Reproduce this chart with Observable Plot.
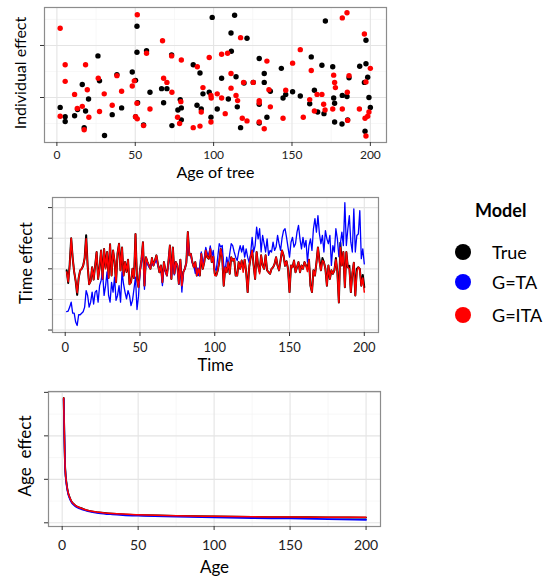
<!DOCTYPE html>
<html><head><meta charset="utf-8">
<script src="https://cdn.jsdelivr.net/npm/d3@7"></script>
<script src="https://cdn.jsdelivr.net/npm/@observablehq/plot@0.6"></script>
<style>
body{margin:0;background:#fff;font-family:Lato,sans-serif;}
#wrap{position:relative;width:544px;height:579px;overflow:hidden;}
.panel{position:absolute;left:0;}
.panel svg{display:block;}
.legend{position:absolute;left:0;top:0;width:544px;height:579px;pointer-events:none;}
.lg-title{position:absolute;left:475px;top:199px;font-weight:bold;font-size:18px;color:#000;}
.lg-item{position:absolute;left:455px;height:18px;display:flex;align-items:center;}
.lg-dot{width:16px;height:16px;border-radius:50%;margin-right:21px;}
.lg-text{font-size:18px;color:#000;}
</style></head><body><div id="wrap"></div>
<script>
// ---------- Panel 1: individual effect vs age of tree ----------
const indAgeTrue = [2.1,5.3,5.3,11.3,13.2,16.2,17.4,18.3,20.2,26.2,27.2,30.4,35.3,38.3,41.3,48.1,50.2,50.2,51.1,51.1,51.5,55.3,57.2,59.4,66.8,68.1,70.2,73.2,73.4,77.2,78.7,79.4,79.4,87.0,89.4,91.3,92.1,93.2,97.2,98.3,99.1,102.3,105.1,109.4,111.3,111.1,113.4,114.3,115.1,117.2,121.3,119.4,125.3,129.1,129.1,129.1,132.3,132.3,134.0,136.2,143.2,144.3,146.0,150.4,155.3,161.3,162.3,164.3,166.4,169.1,170.4,171.3,176.0,176.6,177.2,177.2,181.9,182.1,185.1,185.5,186.4,193.2,196.2,196.6,197.2,197.2,198.3,199.1,200.0];
const indTrue = [-0.19,-0.37,-0.46,-0.35,-0.23,0.25,-0.58,-0.26,-0.03,0.8,0.32,-0.73,-0.33,0.44,-0.2,0.49,0.33,-0.37,1.37,0.87,-0.1,-0.53,0.9,0.1,0.17,-0.1,0.17,0.82,-0.54,-0.24,-0.04,-0.2,-0.43,0.63,-0.15,0.47,-0.22,0.07,0.1,-0.38,1.54,-0.22,0.37,-0.03,0.89,1.24,1.58,0.4,-0.18,-0.58,1.14,0.28,0.29,0.75,-0.13,-0.49,0.29,0.46,-0.38,0.12,0.56,-0.01,0.06,0.11,0.03,-0.12,0.78,0.14,-0.28,0.62,-0.31,1.47,0.59,-0.01,-0.11,-0.47,-0.51,0.04,0.02,-0.43,0.38,0.6,0.29,-0.65,1.1,0.65,0.39,0.0,-0.19];
const indAgeITA = [2.1,2.1,5.3,5.3,11.3,13.0,16.2,17.4,18.3,19.4,20.4,26.4,27.2,30.2,35.3,38.3,41.3,48.1,49.4,50.2,51.3,51.1,51.3,55.3,57.2,59.4,67.4,68.1,70.2,73.2,73.4,79.4,79.1,77.0,78.3,87.0,89.6,91.3,93.2,92.1,97.2,98.3,98.5,98.3,102.3,105.1,105.1,107.4,108.9,111.1,111.1,114.3,115.3,117.2,118.3,119.1,121.3,125.3,129.1,129.1,129.1,132.3,134.0,135.3,136.2,144.3,146.0,150.4,155.3,157.2,161.3,162.3,164.3,166.0,169.1,170.2,171.1,176.0,176.6,177.2,177.7,182.1,182.1,185.1,185.3,185.5,186.4,193.0,196.2,196.6,197.2,197.2,198.3,199.1,200.0];
const indITA = [1.33,-0.36,0.63,0.31,0.06,-0.21,-0.17,-0.62,0.63,0.15,-0.38,0.37,-0.27,0.07,-0.15,0.42,0.12,0.22,0.32,-0.37,1.59,-0.11,-0.41,-0.54,0.85,-0.22,1.09,0.37,0.29,0.8,0.1,0.72,-0.08,-0.38,-0.5,-0.58,0.59,-0.55,0.19,-0.28,0.77,0.04,-0.01,-0.47,0.07,0.83,-0.01,-0.31,0.85,0.18,0.46,0.04,-0.06,1.15,-0.4,0.29,-0.45,0.29,-0.06,-0.1,-0.47,-0.6,0.7,0.15,-0.18,-0.4,0.14,0.66,0.92,-0.38,-0.04,0.52,-0.26,0.06,0.06,-0.13,-0.24,-0.22,0.43,0.29,0.19,1.53,-0.22,1.63,0.1,-0.44,0.42,-0.22,1.22,-0.4,0.3,-0.74,-0.36,-0.28,0.56];

// ---------- Panel 2: time effect ----------
const time = d3.range(1, 201);
const timeITA = [
-0.1,-0.42,0.1,1.0,0.35,-0.1,-0.4,-0.78,-0.3,-0.05,
0.0,0.1,0.35,0.98,0.1,-0.5,-0.4,0.05,-0.35,0.1,
0.55,-0.33,0.05,0.6,-0.33,0.65,0.0,0.55,-0.3,0.8,
-0.22,0.6,0.25,-0.44,0.5,0.82,-0.05,0.7,-0.22,0.22,
-0.1,0.3,-0.5,-0.44,0.0,-0.3,1.14,-0.33,-0.6,-0.1,
0.3,0.87,-0.55,0.38,0.22,0.11,0.0,0.35,0.11,0.27,
0.44,0.15,-0.11,0.11,-0.44,0.22,-0.05,-0.22,0.22,0.76,
-0.33,0.7,-0.16,0.22,0.11,-0.49,0.3,-0.55,-0.1,0.0,
0.2,1.2,0.44,0.49,0.22,0.05,0.22,-0.22,0.0,-0.22,
0.49,0.0,0.22,0.6,0.38,0.33,0.65,0.22,0.4,-0.22,
-0.22,-0.05,0.22,0.65,0.38,-0.55,0.05,-0.11,0.22,-0.16,
0.38,0.27,0.33,-0.22,-0.22,0.22,0.0,0.27,-0.11,0.3,
-0.1,-0.76,0.05,0.38,0.6,0.11,-0.33,0.55,0.11,-0.16,
0.44,0.11,0.0,0.44,-0.05,-0.11,-0.16,0.0,0.05,0.16,
0.38,0.11,-0.05,0.27,0.6,0.44,0.1,0.25,0.0,-0.76,
0.11,0.05,0.27,-0.11,0.05,0.22,-0.11,0.11,0.0,0.22,
0.11,-0.09,0.3,-0.55,-0.76,-0.05,-0.22,0.2,0.7,0.22,
-0.05,0.27,0.22,0.0,-0.55,0.11,-0.33,-0.05,-0.16,-0.05,
0.3,-0.1,-1.1,0.7,0.11,0.55,-0.6,0.55,0.05,0.0,
-0.76,-0.16,0.2,-0.87,-0.11,0.05,0.0,-0.55,-0.3,-0.76];
const timeTrue = [
-0.05,-0.46,0.15,1.0,0.35,-0.1,-0.4,-0.85,-0.3,-0.05,
0.0,0.1,0.35,1.1,0.1,-0.5,-0.4,0.05,-0.35,0.1,
0.55,-0.33,0.05,0.6,-0.33,0.65,0.05,0.55,-0.3,0.8,
-0.22,0.6,0.25,-0.44,0.5,0.82,-0.05,0.7,-0.22,0.22,
-0.1,0.3,-0.5,-0.44,0.0,-0.3,1.14,-0.33,-0.6,-0.05,
0.3,0.87,-0.55,0.38,0.22,0.11,0.0,0.35,0.11,0.27,
0.44,0.15,-0.11,0.11,-0.44,0.22,-0.05,-0.22,0.22,0.76,
-0.33,0.7,-0.16,0.22,0.11,-0.49,0.3,-0.55,-0.1,0.0,
0.2,1.2,0.44,0.49,0.22,0.05,0.22,-0.22,0.0,-0.22,
0.49,0.0,0.22,0.6,0.38,0.33,0.65,0.22,0.4,-0.15,
-0.22,-0.05,0.22,0.65,0.38,-0.55,0.05,-0.11,0.22,-0.16,
0.38,0.27,0.33,-0.22,-0.22,0.22,0.0,0.27,0.0,0.3,
-0.1,-0.76,0.05,0.38,0.6,0.11,-0.33,0.55,0.11,-0.1,
0.44,0.11,0.0,0.44,-0.05,-0.11,-0.16,0.0,0.05,0.16,
0.38,0.11,-0.05,0.27,0.6,0.44,0.1,0.25,0.0,-0.76,
0.11,0.05,0.27,-0.11,0.05,0.22,-0.11,0.11,0.0,0.22,
0.11,0.0,0.3,-0.55,-0.76,-0.05,-0.22,0.2,0.7,0.3,
-0.05,0.35,0.22,0.0,-0.55,0.11,-0.33,-0.05,-0.16,-0.05,
0.35,-0.1,-1.1,0.85,0.11,0.55,-0.6,0.55,0.05,0.1,
-0.76,-0.16,0.2,-0.87,0.0,0.05,0.0,-0.55,-0.2,-0.6];
const timeTA = [
-1.4,-1.38,-1.25,-1.09,-1.45,-1.45,-1.74,-1.85,-1.5,-1.5,
-1.45,-1.4,-1.25,-0.71,-0.87,-1.25,-1.09,-0.76,-1.15,-0.76,
-0.71,-1.09,-0.55,-0.38,-0.1,-0.87,-0.55,-0.1,-0.87,-1.09,
-0.44,-0.76,-0.27,-1.03,-0.87,-0.55,-1.09,-0.1,-0.49,-0.76,
-0.98,-0.71,-0.87,-1.2,-1.03,-0.65,-0.27,-1.33,-0.9,-0.1,
0.2,0.7,-0.67,0.3,0.15,0.05,0.05,0.2,0.11,0.2,
0.3,0.1,-0.05,0.05,-0.55,0.15,-0.1,-0.22,0.2,0.65,
-0.3,0.6,-0.2,0.2,0.05,-0.5,0.25,-0.76,-0.1,0.0,
0.2,1.1,0.5,0.45,0.2,0.1,-0.15,0.05,-0.22,0.1,
0.55,0.1,0.35,0.7,0.5,0.45,0.75,0.4,0.6,0.0,
-0.05,0.38,0.82,0.71,0.76,0.11,-0.05,0.38,0.11,0.49,
0.82,0.76,0.55,0.38,0.27,0.55,0.76,0.55,0.76,0.38,
0.65,0.38,0.2,0.5,1.03,0.55,0.76,1.36,0.98,1.31,
0.55,1.09,0.82,0.55,0.98,0.44,0.6,0.55,0.87,0.6,
0.71,1.09,0.82,0.6,1.0,1.25,1.31,1.03,0.7,0.38,
0.87,1.03,0.71,0.82,1.2,1.42,0.98,0.65,1.03,0.71,
0.93,0.22,0.76,0.98,0.6,1.31,1.64,1.2,1.74,1.14,
0.82,1.09,0.55,1.25,0.98,0.82,1.09,0.11,0.76,0.55,
1.31,0.98,0.4,0.82,1.2,0.76,2.16,0.76,1.3,1.74,
0.87,0.55,1.96,0.55,1.09,1.14,1.9,0.33,0.65,0.16];

// ---------- Panel 3: age effect ----------
const age = [1,2,3,4,5,6,8,10,13,17,24,33,40,50,75,100,125,150,175,200];
const ageTrue = [2.87,1.25,0.88,0.68,0.58,0.5,0.42,0.37,0.33,0.28,0.24,0.21,0.195,0.18,0.16,0.145,0.135,0.13,0.125,0.12];
const ageTA   = [2.85,1.22,0.85,0.66,0.56,0.48,0.4,0.35,0.31,0.27,0.225,0.195,0.18,0.165,0.14,0.125,0.11,0.1,0.085,0.07];
const ageITA  = [2.87,1.24,0.87,0.68,0.58,0.5,0.42,0.37,0.33,0.285,0.245,0.215,0.2,0.185,0.16,0.148,0.138,0.132,0.128,0.125];

const models = ["True", "G=TA", "G=ITA"];
const colors = ["#000000", "#0000ff", "#ff0000"];

const xMajor = [0,50,100,150,200];
const xMinor = [25,75,125,175];

function grid(yMajor, yMinor) {
  return [
    Plot.ruleX(xMinor, {stroke:"#f3f3f3", strokeWidth:0.7}),
    Plot.ruleY(yMinor, {stroke:"#f3f3f3", strokeWidth:0.7}),
    Plot.ruleX(xMajor, {stroke:"#e4e4e4", strokeWidth:1.1}),
    Plot.ruleY(yMajor, {stroke:"#e4e4e4", strokeWidth:1.1})
  ];
}
function axes(yMajor, tickFont, tickPad, xTitle, xTitleDy, yTitle, yTitleDx, yTitleDy, titleFont) {
  return [
    Plot.frame({stroke:"#8c8c8c", strokeWidth:1.2}),
    Plot.axisX(xMajor, {tickSize:4, tickPadding:tickPad, fontSize:tickFont, label:null, stroke:"#333", fill:"#222"}),
    Plot.axisY(yMajor, {tickSize:4, tickFormat:() => "", label:null, stroke:"#333"}),
    Plot.text([xTitle], {text:d => d, frameAnchor:"bottom", textAnchor:"middle", lineAnchor:"middle", dy:xTitleDy, fontSize:titleFont, fill:"#000"}),
    Plot.text([yTitle], {text:d => d, frameAnchor:"left", textAnchor:"middle", lineAnchor:"middle", rotate:-90, dx:yTitleDx, dy:yTitleDy, fontSize:titleFont, fill:"#000"})
  ];
}
const baseStyle = {fontFamily:"Lato, sans-serif", fontSize:"12px", color:"#333", background:"transparent", overflow:"visible"};

const p1 = Plot.plot({
  width:390, height:180, marginLeft:44, marginRight:4, marginTop:7, marginBottom:38,
  x:{domain:[-7.9, 210.3]}, y:{domain:[-0.865, 1.73]},
  style: baseStyle,
  marks:[
    ...grid([0,1], [-0.5,0.5,1.5]),
    Plot.dot(indAgeTrue, {x:d => d, y:(d,i) => indTrue[i], r:2.7, fill:colors[0]}),
    Plot.dot(indAgeITA, {x:d => d, y:(d,i) => indITA[i], r:2.7, fill:colors[2]}),
    ...axes([0,1], 12, 4, "Age of tree", 30, "Individual effect", -24, -2, 16)
  ]
});

const rowsT = (vals) => time.map((t, i) => ({t, v: vals[i]}));
const p2 = Plot.plot({
  width:390, height:190, marginLeft:52, marginRight:12, marginTop:12, marginBottom:43,
  x:{domain:[-8.5, 209.5]}, y:{domain:[-2.08, 2.33]},
  style: {...baseStyle, fontSize:"13px"},
  marks:[
    ...grid([-2,-1,0,1,2], [-1.5,-0.5,0.5,1.5]),
    Plot.line(rowsT(timeTrue), {x:"t", y:"v", stroke:colors[0], strokeWidth:2}),
    Plot.line(rowsT(timeTA), {x:"t", y:"v", stroke:colors[1], strokeWidth:1.3}),
    Plot.line(rowsT(timeITA), {x:"t", y:"v", stroke:colors[2], strokeWidth:1.5}),
    ...axes([-2,-1,0,1,2], 13, 6, "Time", 33, "Time effect", -26, -2, 16.5)
  ]
});

const rowsA = (vals) => age.map((a, i) => ({a, v: vals[i]}));
const p3 = Plot.plot({
  width:390, height:199, marginLeft:48, marginRight:10, marginTop:11, marginBottom:53,
  x:{domain:[-9, 209.5]}, y:{domain:[-0.085, 3.02]},
  style: {...baseStyle, fontSize:"14px"},
  marks:[
    ...grid([0,1,2,3], [0.5,1.5,2.5]),
    Plot.line(rowsA(ageTrue), {x:"a", y:"v", stroke:colors[0], strokeWidth:1.8, curve:"monotone-x"}),
    Plot.line(rowsA(ageTA), {x:"a", y:"v", stroke:colors[1], strokeWidth:1.8, curve:"monotone-x"}),
    Plot.line(rowsA(ageITA), {x:"a", y:"v", stroke:colors[2], strokeWidth:1.5, curve:"monotone-x"}),
    ...axes([0,1,2,3], 14, 10, "Age", 41, "Age\u00a0\u00a0effect", -23, -3, 17)
  ]
});

const wrap = document.getElementById("wrap");
[[p1,0],[p2,185],[p3,380]].forEach(([p, top]) => {
  const d = document.createElement("div");
  d.className = "panel";
  d.style.top = top + "px";
  d.appendChild(p);
  wrap.appendChild(d);
});

// legend
const lg = document.createElement("div");
lg.className = "legend";
const t = document.createElement("div");
t.className = "lg-title"; t.textContent = "Model";
lg.appendChild(t);
const ys = [252, 282, 315];
models.forEach((m, i) => {
  const it = document.createElement("div");
  it.className = "lg-item";
  it.style.top = (ys[i] - 9) + "px";
  const dot = document.createElement("div");
  dot.className = "lg-dot"; dot.style.background = colors[i];
  const tx = document.createElement("span");
  tx.className = "lg-text"; tx.textContent = m;
  it.appendChild(dot); it.appendChild(tx);
  lg.appendChild(it);
});
wrap.appendChild(lg);
</script></body></html>
